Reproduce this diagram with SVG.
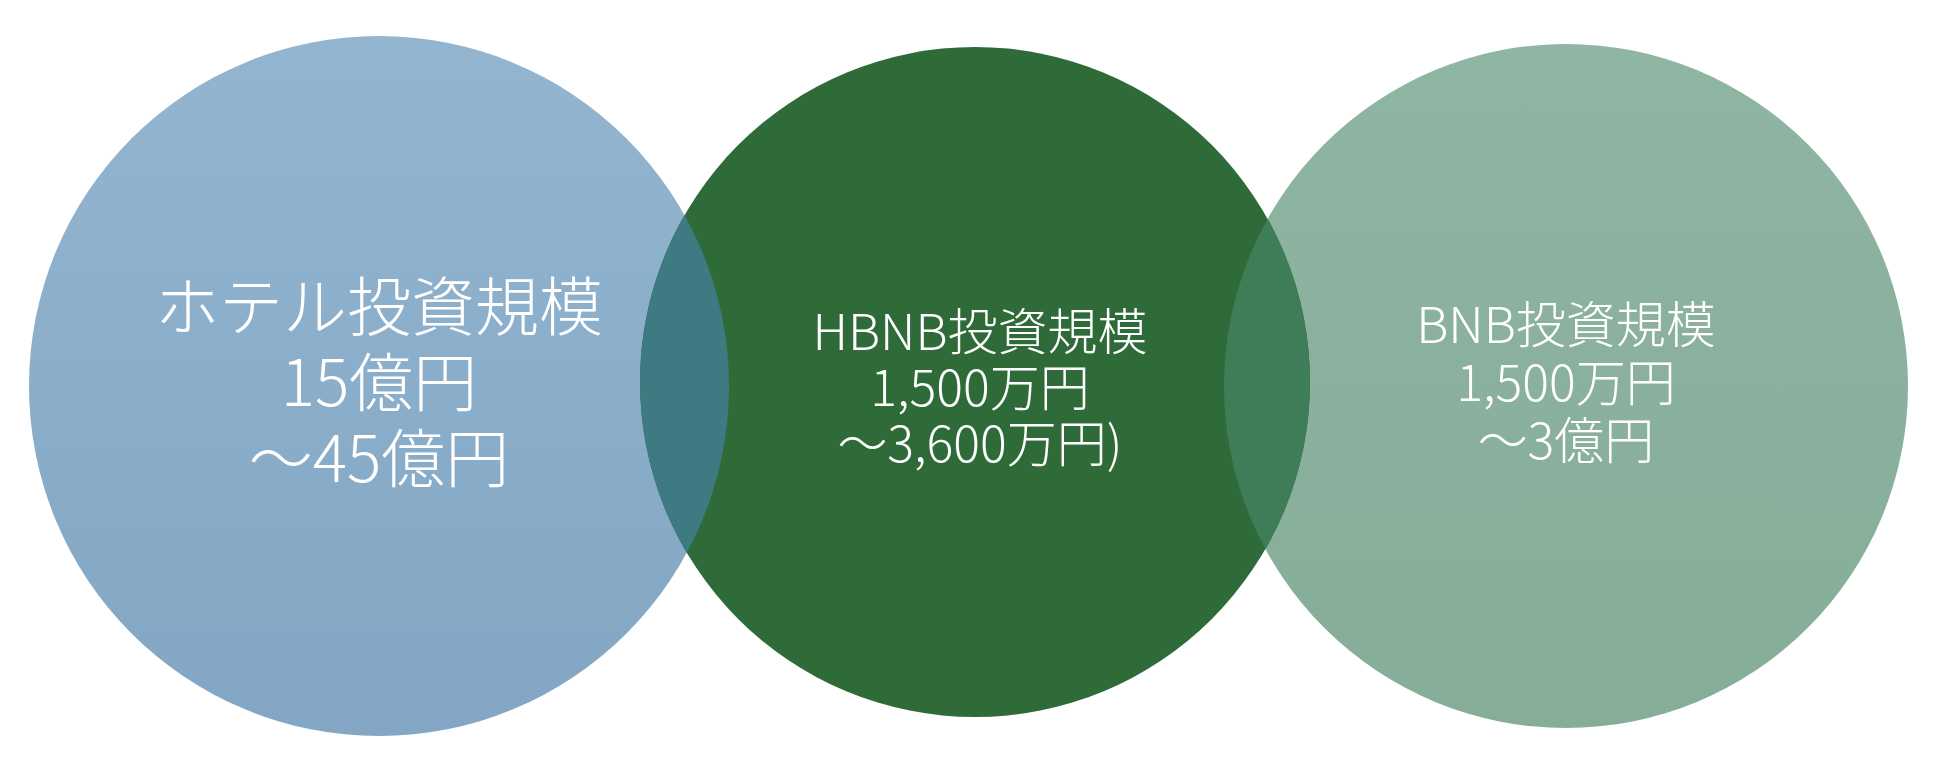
<svg xmlns="http://www.w3.org/2000/svg" width="1946" height="774" viewBox="0 0 1946 774">
<style>
.t{fill:#fff;font-family:"Noto Sans CJK JP","Noto Sans",sans-serif;text-anchor:middle;font-weight:300}
.big{font-size:64px}.sm{font-size:50px}
</style>
<defs>
<linearGradient id="gl" x1="0" y1="0" x2="0" y2="1"><stop offset="0" stop-color="#93b5d0"/><stop offset="1" stop-color="#82a6c3"/></linearGradient>
<linearGradient id="gr" x1="0" y1="0" x2="0" y2="1"><stop offset="0" stop-color="#8fb5a3"/><stop offset="1" stop-color="#86ad98"/></linearGradient>
<clipPath id="cl"><circle cx="379" cy="386" r="350"/></clipPath>
<clipPath id="cr"><circle cx="1566" cy="386" r="342"/></clipPath>
</defs>
<g id="left"><circle cx="379" cy="386" r="350" fill="url(#gl)"/></g>
<g id="right"><circle cx="1566" cy="386" r="342" fill="url(#gr)"/></g>
<g id="middle"><circle cx="975" cy="382" r="335" fill="#2f6b39"/>
<circle cx="975" cy="382" r="335" fill="#3f7a83" clip-path="url(#cl)"/>
<circle cx="975" cy="382" r="335" fill="#3e7d58" clip-path="url(#cr)"/></g>
<g id="labels">
<text class="t big" x="379" y="330">ホテル投資規模</text>
<text class="t big" x="379" y="406">15億円</text>
<text class="t big" x="379" y="482">～45億円</text>
<text class="t sm" x="980" y="350">HBNB投資規模</text>
<text class="t sm" x="980" y="406">1,500万円</text>
<text class="t sm" x="980" y="462">～3,600万円)</text>
<text class="t sm" x="1566" y="343">BNB投資規模</text>
<text class="t sm" x="1566" y="401">1,500万円</text>
<text class="t sm" x="1566" y="459">～3億円</text>
</g>
<g id="connectors"/>
</svg>
